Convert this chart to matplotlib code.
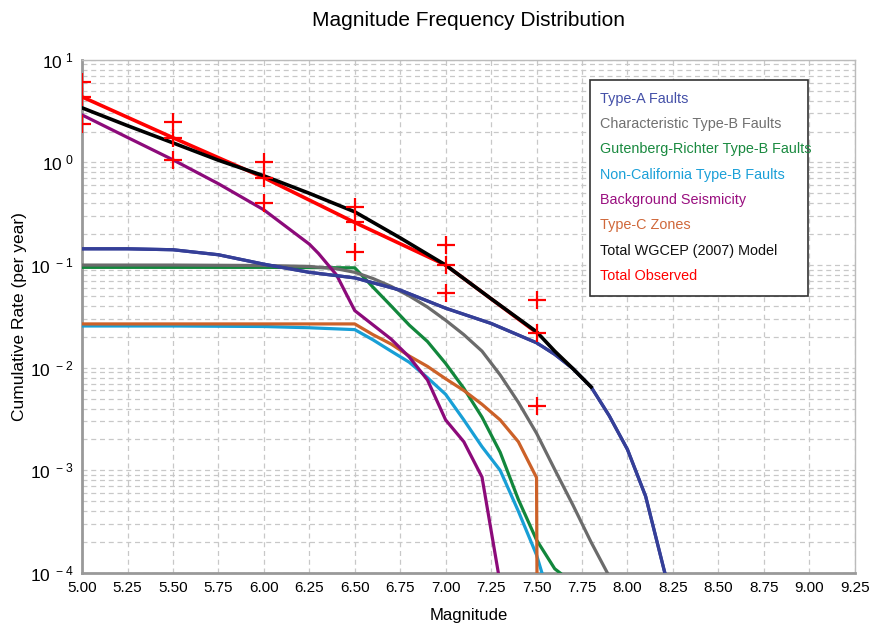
import math
import matplotlib
matplotlib.use("Agg")
import matplotlib.pyplot as plt
from matplotlib.patches import Rectangle
from matplotlib.ticker import FixedLocator, LogLocator, NullFormatter, FuncFormatter

plt.rcParams['font.family'] = ['Liberation Sans', 'DejaVu Sans']
plt.rcParams['mathtext.default'] = 'regular'

# Type-A faults
mag_a = [5.0, 5.25, 5.5, 5.75, 6.0, 6.25, 6.5, 6.75, 7.0, 7.25, 7.5, 7.6, 7.7, 7.8, 7.9, 8.0, 8.1, 8.2, 8.22]
rate_a = [0.144, 0.144, 0.141, 0.126, 0.102, 0.085, 0.075, 0.057, 0.038, 0.027, 0.0175, 0.0135, 0.0098, 0.0065,
          0.0034, 0.0016, 0.00056, 0.00011, 0.00008]

# Characteristic type-B faults
mag_b = [5.0, 5.5, 6.0, 6.25, 6.4, 6.5, 6.6, 6.7, 6.8, 6.9, 7.0, 7.1, 7.2, 7.3, 7.4, 7.5, 7.6, 7.7, 7.8, 7.89]
rate_b = [0.1, 0.1, 0.099, 0.097, 0.092, 0.085, 0.074, 0.062, 0.05, 0.039, 0.029, 0.021, 0.0145, 0.0085,
          0.0046, 0.0023, 0.00102, 0.00046, 0.0002, 0.0001]

# Gutenberg-Richter type-B faults
mag_gr = [5.0, 5.5, 6.0, 6.5, 6.6, 6.7, 6.8, 6.9, 7.0, 7.1, 7.2, 7.3, 7.4, 7.5, 7.6, 7.63]
rate_gr = [0.095, 0.095, 0.095, 0.094, 0.061, 0.040, 0.026, 0.018, 0.011, 0.0063, 0.0033, 0.0015,
           0.00052, 0.00021, 0.00011, 0.0001]

# Non-California type-B faults
mag_nc = [5.0, 5.5, 6.0, 6.25, 6.5, 6.6, 6.7, 6.8, 6.9, 7.0, 7.1, 7.2, 7.3, 7.4, 7.5, 7.53]
rate_nc = [0.0255, 0.0255, 0.0252, 0.0245, 0.0235, 0.0187, 0.0145, 0.0113, 0.0080, 0.0055, 0.0031, 0.0017,
           0.00100, 0.00040, 0.00015, 0.0001]

# Background seismicity
mag_bg = [5.0, 5.25, 5.5, 5.75, 6.0, 6.25, 6.3, 6.4, 6.5, 6.7, 6.8, 6.9, 7.0, 7.1, 7.2, 7.29]
rate_bg = [2.9, 1.75, 1.06, 0.62, 0.345, 0.16, 0.13, 0.08, 0.036, 0.019, 0.0127, 0.0076, 0.0031, 0.0019,
           0.00086, 0.0001]

# Type-C zones
mag_c = [5.0, 5.5, 6.0, 6.5, 6.6, 6.7, 6.8, 6.9, 7.0, 7.1, 7.2, 7.3, 7.4, 7.5, 7.505]
rate_c = [0.0267, 0.0267, 0.0267, 0.0267, 0.021, 0.017, 0.013, 0.0103, 0.0078, 0.006, 0.0044, 0.0031,
          0.0019, 0.00085, 0.00001]

# Total WGCEP (2007) model
mag_tot = [5.0, 5.25, 5.5, 5.75, 6.0, 6.25, 6.5, 6.75, 7.0, 7.25, 7.5, 7.6, 7.7, 7.8]
rate_tot = [3.4, 2.28, 1.55, 1.05, 0.74, 0.50, 0.33, 0.184, 0.10, 0.047, 0.0224, 0.0145, 0.0098, 0.0065]

# Total observed, with upper / lower bounds
mag_obs = [5.0, 5.5, 6.0, 6.5, 7.0, 7.5]
rate_obs = [4.35, 1.74, 0.71, 0.26, 0.1, 0.022]
obs_hi = [6.1, 2.45, 1.0, 0.37, 0.158, 0.046]
obs_lo = [2.35, 1.06, 0.40, 0.135, 0.054, 0.0042]

series = [
    ("Type-A Faults", mag_a, rate_a, "#353f98", "#4450a8"),
    ("Characteristic Type-B Faults", mag_b, rate_b, "#6b6b6b", "#707070"),
    ("Gutenberg-Richter Type-B Faults", mag_gr, rate_gr, "#12873c", "#1a8a40"),
    ("Non-California Type-B Faults", mag_nc, rate_nc, "#189fd6", "#1ba0d8"),
    ("Background Seismicity", mag_bg, rate_bg, "#8c0a7a", "#9a1080"),
    ("Type-C Zones", mag_c, rate_c, "#cc6128", "#d0683a"),
]

fig = plt.figure(figsize=(8.73, 6.29), dpi=100)
ax = fig.add_axes([0.094, 0.089, 0.885, 0.816])

draw_order = [2, 1, 3, 5, 4, 0]
for i in draw_order:
    name, m, r, c, tc = series[i]
    ax.plot(m, r, color=c, lw=2.3, zorder=3 + draw_order.index(i) * 0.1)

ax.plot(mag_obs, rate_obs, color="#ff0000", lw=2.6, zorder=4)
ax.plot(mag_tot, rate_tot, color="black", lw=2.6, zorder=4.2)
ax.plot(mag_a, rate_a, color="#353f98", lw=2.3, zorder=4.1)
for vals in (obs_hi, rate_obs, obs_lo):
    ax.plot(mag_obs, vals, ls="none", marker="+", ms=13, mew=1.6, color="#ff0000", zorder=5)

ax.set_yscale("log")
ax.set_xlim(5.0, 9.25)
ax.set_ylim(1e-4, 10)
ax.xaxis.set_major_locator(FixedLocator([5.0 + 0.25 * k for k in range(18)]))
ax.xaxis.set_major_formatter(FuncFormatter(lambda v, p: "%.2f" % v))
ax.yaxis.set_major_locator(LogLocator(base=10, numticks=10))
ax.yaxis.set_minor_locator(LogLocator(base=10, subs=range(2, 10), numticks=20))
ax.yaxis.set_minor_formatter(NullFormatter())
ax.yaxis.set_major_formatter(FuncFormatter(lambda v, p: r"$10^{\ %d}$" % round(math.log10(v))))

ax.grid(True, which="major", color="#c8c8c8", ls=(0, (4, 3)), lw=0.9)
ax.grid(True, which="minor", axis="y", color="#c8c8c8", ls=(0, (4, 3)), lw=0.9)
ax.tick_params(which="both", length=0, labelsize=11, colors="black", pad=6)
ax.tick_params(axis="y", labelsize=12.5)
for s in ("left", "bottom"):
    ax.spines[s].set_color("#999999")
    ax.spines[s].set_linewidth(2)
for s in ("top", "right"):
    ax.spines[s].set_color("#bbbbbb")
    ax.spines[s].set_linewidth(1)

ax.set_title("Magnitude Frequency Distribution", fontsize=15, pad=24)
ax.set_xlabel("Magnitude", fontsize=12, labelpad=9)
ax.set_ylabel("Cumulative Rate (per year)", fontsize=12.5)
ax.yaxis.set_label_coords(-0.071, 0.5)

# legend: coloured text in a plain box, text may run past the right edge like the original
names = [s[0] for s in series] + ["Total WGCEP (2007) Model", "Total Observed"]
text_cols = [s[4] for s in series] + ["#111111", "#ff0000"]
ax.add_patch(Rectangle((0.657, 0.540), 0.282, 0.421, transform=ax.transAxes, facecolor="white",
                       edgecolor="#333333", lw=1.2, zorder=10))
for k, (n, c) in enumerate(zip(names, text_cols)):
    ax.text(0.671, 0.924 - k * 0.0493, n, transform=ax.transAxes, color=c, fontsize=10.4,
            va="center", ha="left", zorder=11)

fig.savefig("out.png", dpi=100)
